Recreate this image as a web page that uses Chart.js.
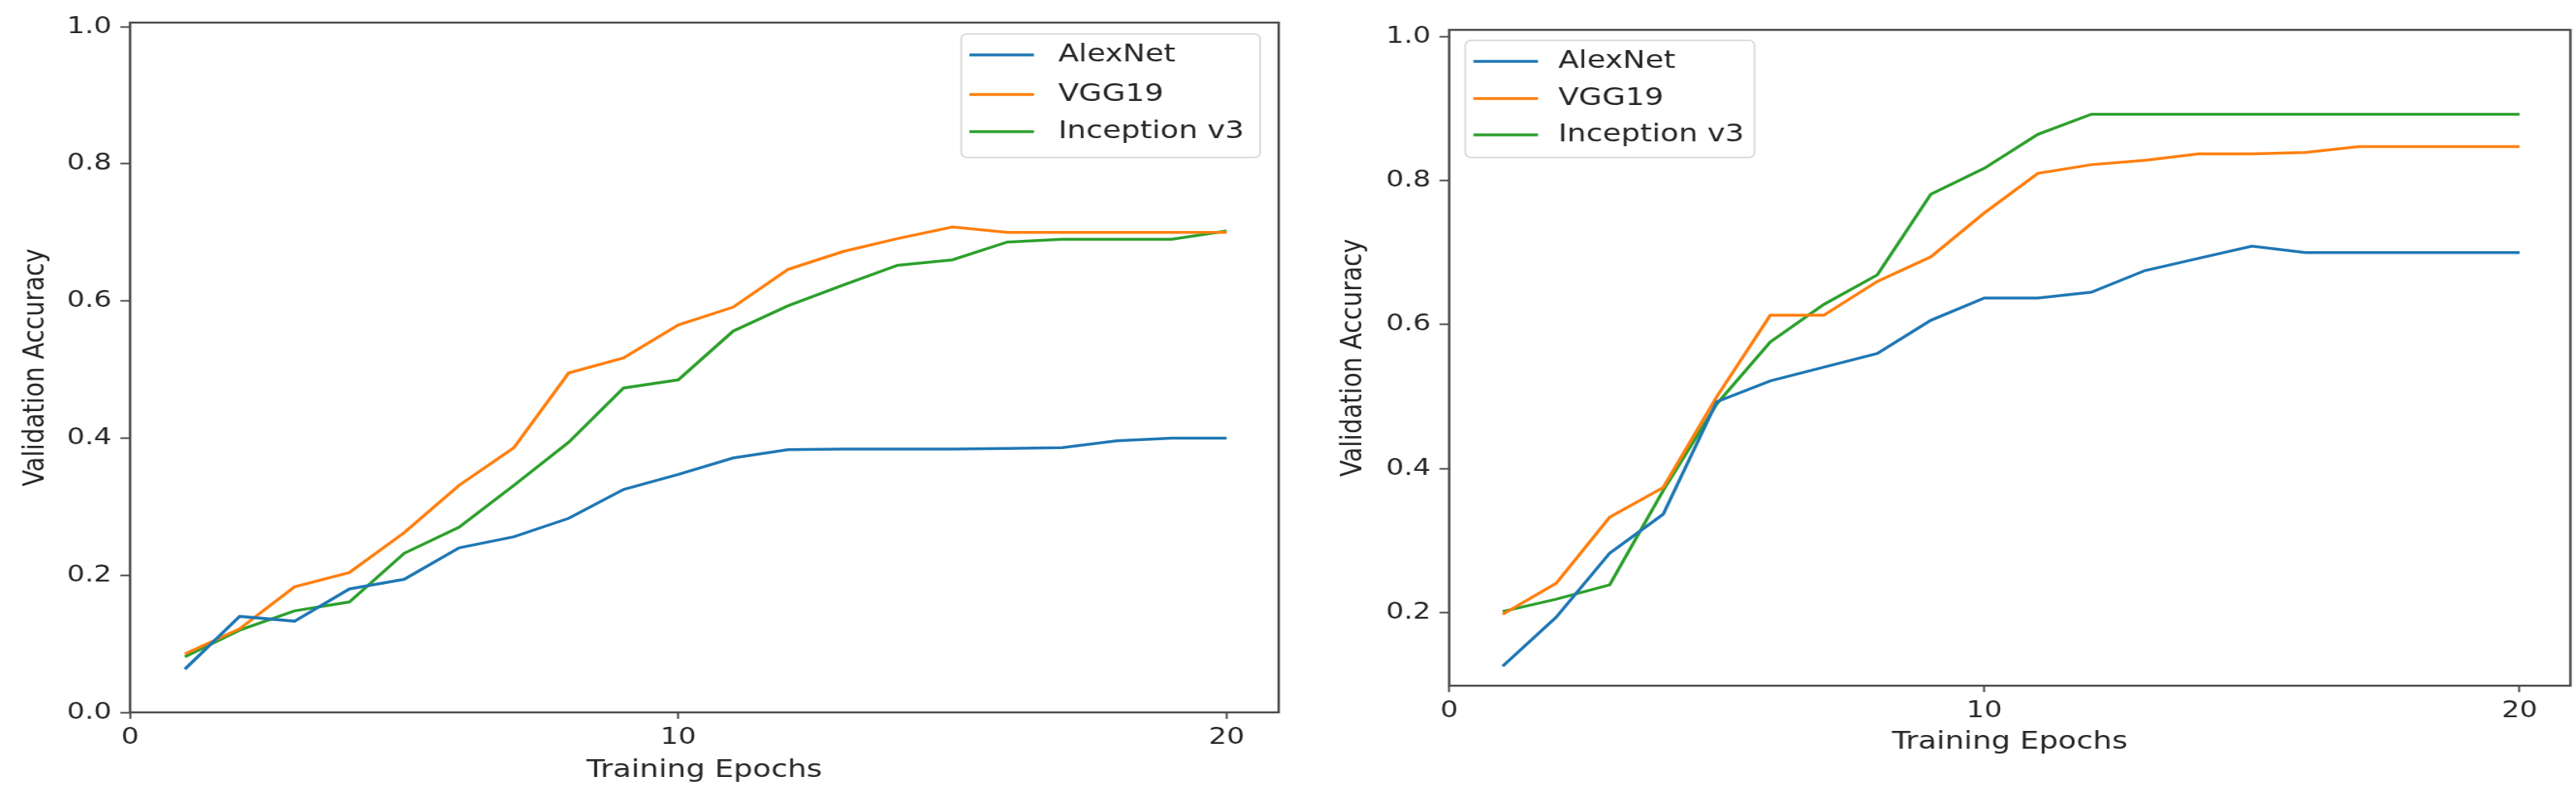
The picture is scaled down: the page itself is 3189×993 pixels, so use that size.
<!DOCTYPE html>
<html>
<head>
<meta charset="utf-8">
<script src="https://cdn.jsdelivr.net/npm/chart.js@4.4.1/dist/chart.umd.min.js"></script>
<style>
  html, body { margin: 0; padding: 0; background: #fff; }
  body { width: 3189px; height: 993px; position: relative; overflow: hidden; }
  .panel { position: absolute; top: 0; height: 993px; transform-origin: 0 0; }
</style>
</head>
<body>
<div class="panel" id="leftPanel"><canvas id="leftChart"></canvas></div>
<div class="panel" id="rightPanel"><canvas id="rightChart"></canvas></div>
<script>
// data
const epochs = [1, 2, 3, 4, 5, 6, 7, 8, 9, 10, 11, 12, 13, 14, 15, 16, 17, 18, 19, 20];
const seriesNames = ['AlexNet', 'VGG19', 'Inception v3'];
const seriesColors = ['#1f77b4', '#ff7f0e', '#2ca02c'];

const leftAlexNet = [0.063, 0.140, 0.133, 0.180, 0.194, 0.240, 0.256, 0.283, 0.325, 0.347, 0.371, 0.383, 0.384, 0.384, 0.384, 0.385, 0.386, 0.396, 0.400, 0.400];
const leftVGG19 = [0.085, 0.122, 0.183, 0.204, 0.262, 0.331, 0.386, 0.495, 0.517, 0.565, 0.591, 0.646, 0.672, 0.691, 0.708, 0.700, 0.700, 0.700, 0.700, 0.700];
const leftInception = [0.081, 0.120, 0.148, 0.161, 0.232, 0.270, 0.331, 0.394, 0.473, 0.485, 0.556, 0.593, 0.623, 0.652, 0.660, 0.686, 0.690, 0.690, 0.690, 0.702];

const rightAlexNet = [0.126, 0.194, 0.283, 0.337, 0.493, 0.522, 0.541, 0.560, 0.606, 0.637, 0.637, 0.645, 0.675, 0.692, 0.709, 0.700, 0.700, 0.700, 0.700, 0.700];
const rightVGG19 = [0.198, 0.241, 0.333, 0.374, 0.500, 0.613, 0.613, 0.660, 0.694, 0.755, 0.810, 0.822, 0.828, 0.837, 0.837, 0.839, 0.847, 0.847, 0.847, 0.847];
const rightInception = [0.202, 0.219, 0.239, 0.370, 0.490, 0.576, 0.628, 0.669, 0.781, 0.817, 0.864, 0.892, 0.892, 0.892, 0.892, 0.892, 0.892, 0.892, 0.892, 0.892];

const xTicks = [0, 10, 20];
const leftYTicks = [0.0, 0.2, 0.4, 0.6, 0.8, 1.0];
const rightYTicks = [0.2, 0.4, 0.6, 0.8, 1.0];

const xTitle = 'Training Epochs';
const yTitle = 'Validation Accuracy';

// the reference is stretched horizontally, so each panel is drawn narrower and scaled
const SX = 1.2;
const FONT = "'DejaVu Sans', sans-serif";
const TEXT = '#262626';

const framePlugin = {
    id: 'frame',
    afterDraw(chart) {
        const a = chart.chartArea, ctx = chart.ctx;
        ctx.save();
        ctx.strokeStyle = '#4a4a4a';
        ctx.lineWidth = 2.5;
        ctx.strokeRect(a.left, a.top, a.right - a.left, a.bottom - a.top);
        ctx.restore();
    }
};

const boxLegendPlugin = {
    id: 'boxLegend',
    afterDraw(chart, args, opts) {
        const ctx = chart.ctx;
        const x = opts.x, y = opts.y, w = opts.w, h = opts.h, r = 6;
        ctx.save();
        ctx.beginPath();
        ctx.moveTo(x + r, y);
        ctx.arcTo(x + w, y, x + w, y + h, r);
        ctx.arcTo(x + w, y + h, x, y + h, r);
        ctx.arcTo(x, y + h, x, y, r);
        ctx.arcTo(x, y, x + w, y, r);
        ctx.closePath();
        ctx.fillStyle = 'rgba(255,255,255,0.85)';
        ctx.fill();
        ctx.strokeStyle = '#dcdcdc';
        ctx.lineWidth = 2;
        ctx.stroke();
        ctx.font = '31px ' + FONT;
        ctx.textBaseline = 'middle';
        ctx.fillStyle = TEXT;
        chart.data.datasets.forEach(function(ds, i) {
            const ry = y + opts.rows[i];
            ctx.strokeStyle = ds.borderColor;
            ctx.lineWidth = 3.5;
            ctx.beginPath();
            ctx.moveTo(x + opts.h1, ry);
            ctx.lineTo(x + opts.h2, ry);
            ctx.stroke();
            ctx.fillStyle = TEXT;
            ctx.fillText(ds.label, x + opts.tx, ry);
        });
        ctx.restore();
    }
};

function makeChart(canvasId, panelId, p) {
    const panel = document.getElementById(panelId);
    const innerW = p.screenW / SX;
    panel.style.left = p.screenLeft + 'px';
    panel.style.width = innerW + 'px';
    panel.style.transform = 'scaleX(' + SX + ')';

    const series = [p.alex, p.vgg, p.inc];
    const datasets = series.map(function(vals, i) {
        return {
            label: seriesNames[i],
            data: epochs.map(function(e, j) { return { x: e, y: vals[j] }; }),
            borderColor: seriesColors[i],
            backgroundColor: seriesColors[i],
            borderWidth: 3.5,
            pointRadius: 0,
            tension: 0,
            fill: false
        };
    });

    const yAxisW = (p.plotLeft - p.screenLeft) / SX;
    const padRight = (p.screenLeft + p.screenW - p.plotRight) / SX;

    new Chart(document.getElementById(canvasId), {
        type: 'line',
        data: { datasets: datasets },
        plugins: [framePlugin, boxLegendPlugin],
        options: {
            responsive: true,
            maintainAspectRatio: false,
            animation: false,
            layout: { padding: { left: 0, right: padRight, top: p.plotTop, bottom: 0 } },
            plugins: {
                legend: { display: false },
                tooltip: { enabled: false },
                boxLegend: {
                    x: (p.legLeft - p.screenLeft) / SX,
                    y: p.legTop,
                    w: p.legW / SX,
                    h: p.legH,
                    rows: p.legRows,
                    h1: 10 / SX,
                    h2: 90 / SX,
                    tx: p.legText / SX
                }
            },
            scales: {
                x: {
                    type: 'linear',
                    min: 0,
                    max: 20.95,
                    afterBuildTicks: function(scale) { scale.ticks = xTicks.map(function(v) { return { value: v }; }); },
                    afterFit: function(scale) { scale.height = 993 - p.plotBottom; },
                    grid: { drawOnChartArea: false, drawTicks: true, tickLength: 8, tickWidth: 2, color: '#4a4a4a' },
                    border: { display: false },
                    ticks: { color: TEXT, font: { family: FONT, size: 29 }, padding: 6, maxRotation: 0 },
                    title: { display: true, text: xTitle, color: TEXT, font: { family: FONT, size: 31 }, padding: { bottom: p.xTitlePad, top: 0 } }
                },
                y: {
                    min: p.yMin,
                    max: p.yMax,
                    afterBuildTicks: function(scale) { scale.ticks = p.yTicks.map(function(v) { return { value: v }; }); },
                    afterFit: function(scale) { scale.width = yAxisW; },
                    grid: { drawOnChartArea: false, drawTicks: true, tickLength: 10, tickWidth: 2, color: '#4a4a4a' },
                    border: { display: false },
                    ticks: { color: TEXT, font: { family: FONT, size: 29 }, padding: 9, callback: function(v) { return Number(v).toFixed(1); } },
                    title: { display: true, text: yTitle, color: TEXT, font: { family: FONT, size: 30 }, padding: { top: p.yTitlePad, bottom: 0 } }
                }
            }
        }
    });
}

makeChart('leftChart', 'leftPanel', {
    screenLeft: 0, screenW: 1600,
    plotLeft: 161, plotRight: 1583, plotTop: 28, plotBottom: 882,
    alex: leftAlexNet, vgg: leftVGG19, inc: leftInception,
    yMin: 0, yMax: 1.006, yTicks: leftYTicks,
    legLeft: 1190, legTop: 42, legW: 370, legH: 153, legRows: [26, 75, 121], legText: 120,
    xTitlePad: 20, yTitlePad: 19
});

makeChart('rightChart', 'rightPanel', {
    screenLeft: 1600, screenW: 1589,
    plotLeft: 1794, plotRight: 3182, plotTop: 37, plotBottom: 849,
    alex: rightAlexNet, vgg: rightVGG19, inc: rightInception,
    yMin: 0.099, yMax: 1.009, yTicks: rightYTicks,
    legLeft: 1814, legTop: 50, legW: 358, legH: 145, legRows: [26, 72, 117], legText: 115,
    xTitlePad: 55, yTitlePad: 45
});
</script>
</body>
</html>
